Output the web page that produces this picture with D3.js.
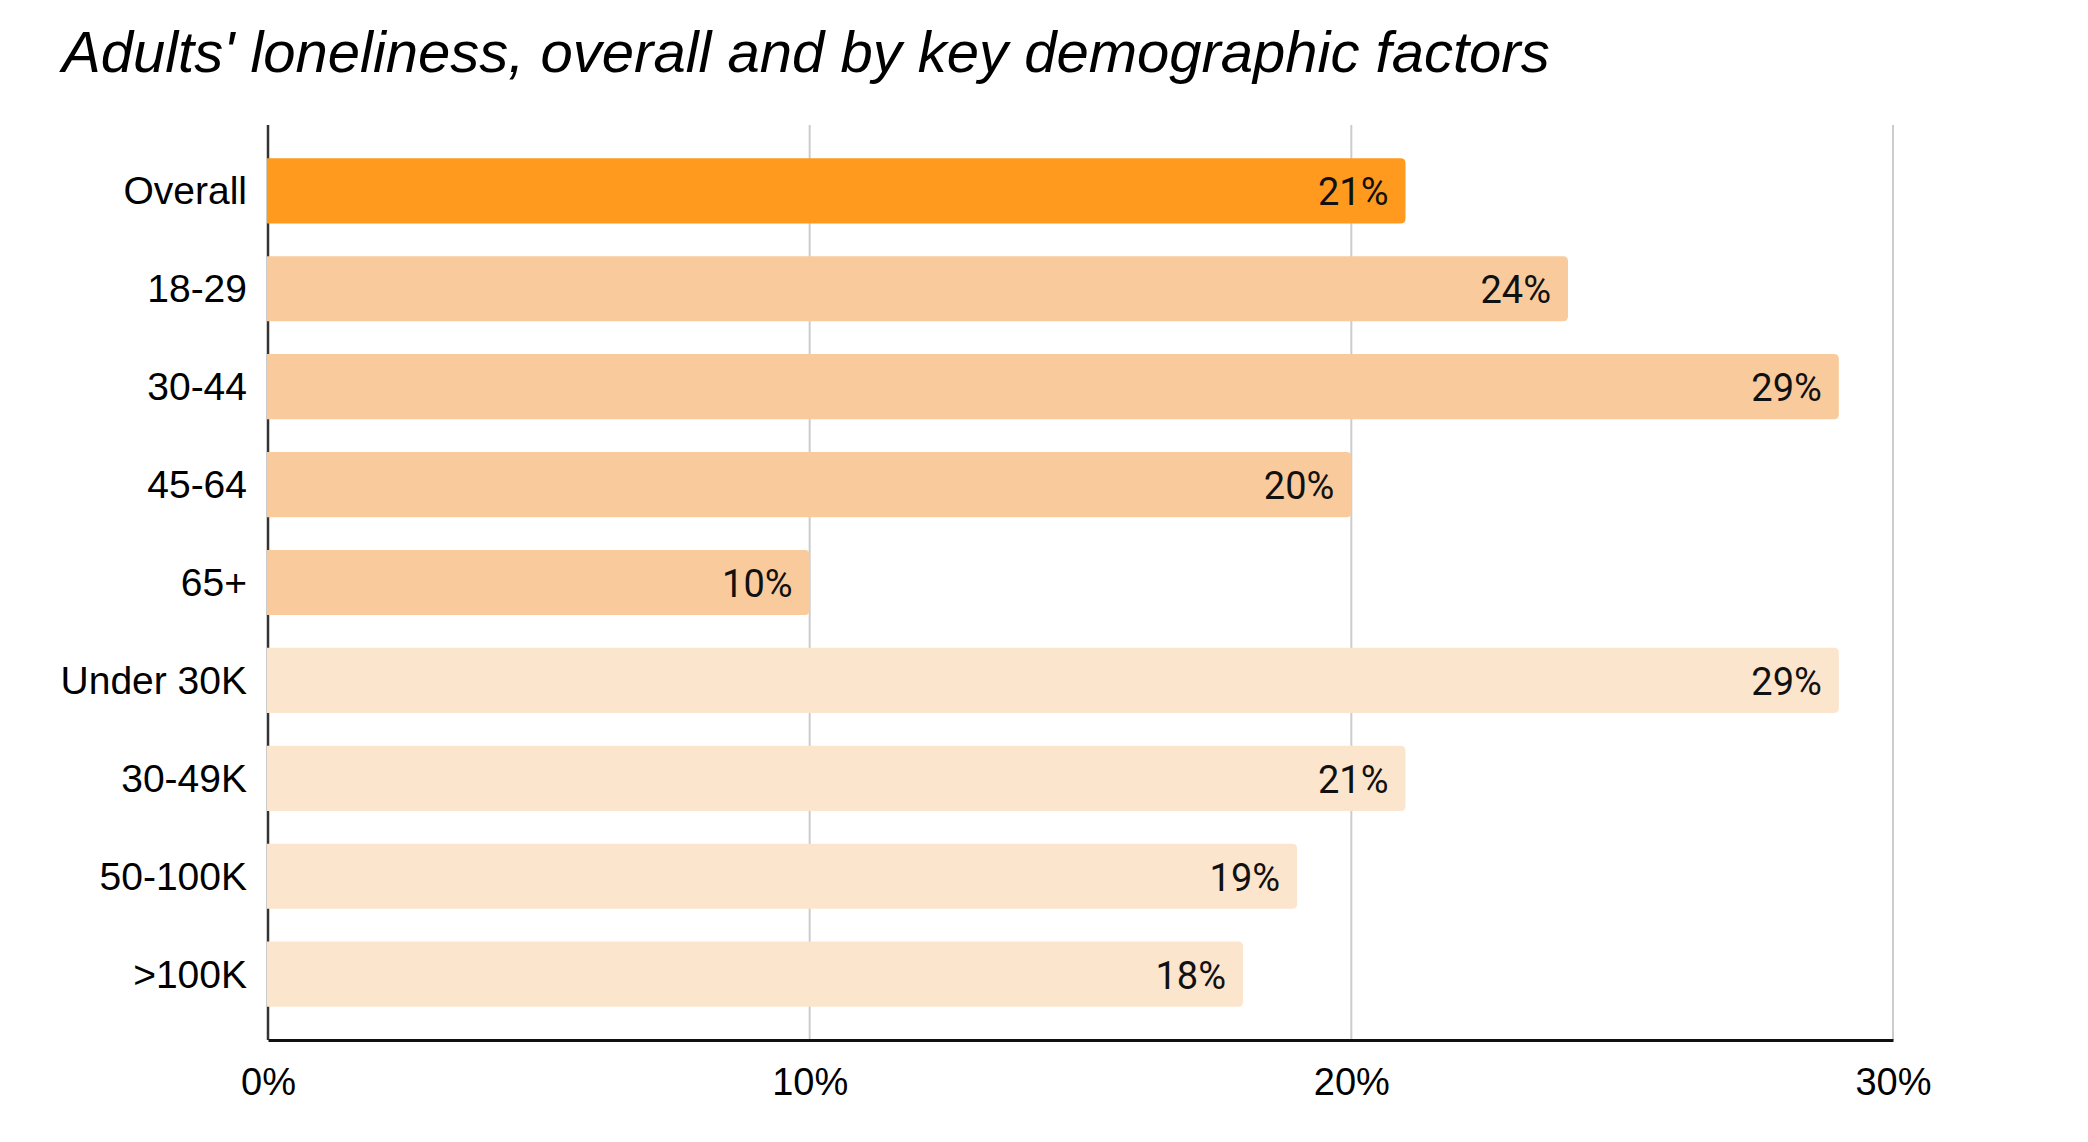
<!DOCTYPE html>
<html>
<head>
<meta charset="utf-8">
<script src="https://cdn.jsdelivr.net/npm/d3@7"></script>
<style>
	body { margin: 0; background: #fff; }
	svg { display: block; }
</style>
</head>
<body>
<script>
// chart data
var categories = ["Overall", "18-29", "30-44", "45-64", "65+", "Under 30K", "30-49K", "50-100K", ">100K"];
var values = [21, 24, 29, 20, 10, 29, 21, 19, 18];
var groups = ["overall", "age", "age", "age", "age", "income", "income", "income", "income"];
var xTicks = [0, 10, 20, 30];
var title = "Adults' loneliness, overall and by key demographic factors";

var width = 2088, height = 1142;
var margin = {top: 125, right: 195, bottom: 102, left: 268};

var colors = {overall: "#ff9a1f", age: "#f9cb9c", income: "#fce5cd"};

var svg = d3.select("body").append("svg")
	.attr("width", width)
	.attr("height", height);

var x = d3.scaleLinear()
	.domain([0, 30])
	.range([margin.left, width - margin.right]);

var y = d3.scaleBand()
	.domain(categories)
	.range([margin.top, height - margin.bottom])
	.paddingInner(0.335)
	.paddingOuter(0.34);

// title
svg.append("text")
	.attr("x", 62)
	.attr("y", 72)
	.attr("font-family", "Liberation Sans, Arial, sans-serif")
	.attr("font-style", "italic")
	.attr("font-size", 58)
	.attr("fill", "#000")
	.text(title);

// gridlines
svg.append("g")
	.selectAll("line")
	.data(xTicks.filter(d => d > 0))
	.join("line")
	.attr("x1", d => x(d))
	.attr("x2", d => x(d))
	.attr("y1", margin.top)
	.attr("y2", height - margin.bottom)
	.attr("stroke", "#cccccc")
	.attr("stroke-width", 2);

// left axis line
svg.append("line")
	.attr("x1", x(0))
	.attr("x2", x(0))
	.attr("y1", margin.top)
	.attr("y2", height - margin.bottom)
	.attr("stroke", "#333")
	.attr("stroke-width", 2.5);

// bottom axis
var xAxis = svg.append("g")
	.attr("transform", "translate(0," + (height - margin.bottom) + ")")
	.call(d3.axisBottom(x).tickValues(xTicks).tickFormat(d => d + "%").tickSize(0).tickPadding(28));

xAxis.select(".domain")
	.attr("stroke", "#111")
	.attr("stroke-width", 3);

xAxis.selectAll("text")
	.attr("font-family", "Liberation Sans, Arial, sans-serif")
	.attr("font-size", 38)
	.attr("fill", "#000");

// bar path with rounded right corners only
function barPath(x0, y0, w, h, r) {
	return "M" + x0 + "," + y0 +
		"H" + (x0 + w - r) +
		"Q" + (x0 + w) + "," + y0 + " " + (x0 + w) + "," + (y0 + r) +
		"V" + (y0 + h - r) +
		"Q" + (x0 + w) + "," + (y0 + h) + " " + (x0 + w - r) + "," + (y0 + h) +
		"H" + x0 + "Z";
}

var rows = categories.map((c, i) => ({name: c, value: values[i], group: groups[i]}));

svg.append("g")
	.selectAll("path")
	.data(rows)
	.join("path")
	.attr("d", d => barPath(x(0) - 1, y(d.name), x(d.value) - x(0) + 1, y.bandwidth(), 5))
	.attr("fill", d => colors[d.group]);

// value labels
svg.append("g")
	.selectAll("text")
	.data(rows)
	.join("text")
	.attr("x", d => x(d.value) - 17)
	.attr("y", d => y(d.name) + y.bandwidth() / 2)
	.attr("dy", "0.38em")
	.attr("text-anchor", "end")
	.attr("font-family", "Roboto, sans-serif")
	.attr("font-size", 38)
	.attr("fill", "#111")
	.text(d => d.value + "%");

// category labels
svg.append("g")
	.selectAll("text")
	.data(rows)
	.join("text")
	.attr("x", x(0) - 21)
	.attr("y", d => y(d.name) + y.bandwidth() / 2)
	.attr("dy", "0.35em")
	.attr("text-anchor", "end")
	.attr("font-family", "Liberation Sans, Arial, sans-serif")
	.attr("font-size", 39)
	.attr("fill", "#000")
	.text(d => d.name);
</script>
</body>
</html>
